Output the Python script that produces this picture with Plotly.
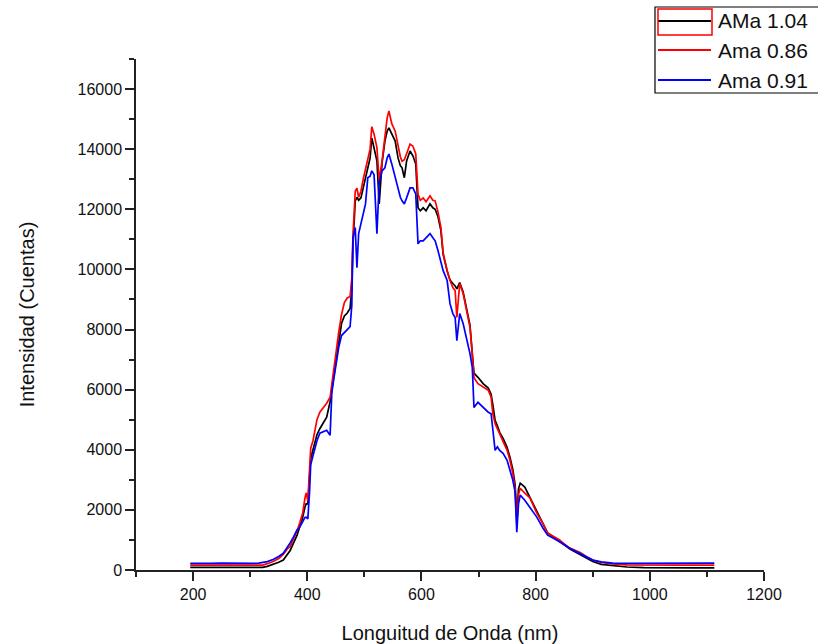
import plotly.graph_objects as go

# Shared wavelength grid (nm)
wavelength = [195, 210, 230, 250, 270, 290, 305, 315, 322, 330, 340, 350, 358, 365, 370, 376, 382, 387,
              392, 396, 398, 401, 404, 406, 410, 413, 417, 422, 428, 434, 440, 443, 446, 450, 455, 460,
              465, 470, 475, 478, 480, 484, 487, 490, 494, 498, 502, 506, 510, 513, 517, 522, 526, 531,
              536, 540, 543, 548, 554, 559, 563, 566, 570, 574, 580, 585, 590, 594, 598, 603, 608, 615,
              620, 624, 629, 634, 638, 645, 650, 655, 659, 662, 667, 673, 679, 685, 689, 692, 699, 708,
              717, 722, 725, 729, 733, 737, 743, 750, 755, 760, 764, 767, 770, 773, 781, 790, 802, 813,
              821, 832, 842, 850, 860, 870, 878, 890, 900, 915, 935, 960, 990, 1020, 1050, 1080, 1113]

# Counts per sample
ama_104 = [90, 95, 90, 90, 85, 85, 85, 85, 90, 120, 180, 260, 330, 500, 650, 900, 1150, 1450,
           1750, 2100, 2200, 2200, 3300, 3700, 4000, 4200, 4500, 4700, 4900, 5080, 5600, 6000, 6400, 7000, 7700, 8200,
           8450, 8550, 8700, 9400, 10800, 12280, 12400, 12300, 12380, 12700, 13050, 13380, 13700, 14370, 14040, 13610, 12180, 13550,
           14270, 14600, 14710, 14500, 14270, 13710, 13450, 13380, 13050, 13610, 13940, 13780, 13510, 12050, 11950, 12050, 11950, 12180,
           12050, 12000, 11750, 11300, 10500, 9950, 9650, 9530, 9450, 9350, 9560, 9250, 8700, 8150, 7200, 6550, 6410, 6200,
           6050, 5850, 5500, 4980, 4800, 4580, 4380, 4080, 3750, 3350, 2850, 1760, 2700, 2890, 2760, 2420, 1990, 1560,
           1230, 1080, 960, 840, 700, 600, 520, 380, 280, 190, 150, 100, 80, 70, 70, 70, 70]

ama_086 = [160, 165, 160, 165, 160, 160, 160, 160, 165, 210, 280, 380, 520, 700, 780, 1050, 1300, 1580,
           1900, 2400, 2560, 2300, 3400, 4050, 4300, 4650, 5000, 5250, 5400, 5550, 5750, 6200, 6650, 7200, 7900, 8500,
           8900, 9050, 9100, 9700, 11100, 12600, 12700, 12400, 12600, 13000, 13350, 13600, 14000, 14750, 14500, 14050, 12950, 13600,
           14500, 15050, 15270, 14850, 14600, 14050, 13750, 13600, 13650, 13850, 14170, 14100, 13850, 12500, 12300, 12380, 12250, 12450,
           12300, 12280, 11900, 11400, 10550, 9960, 9630, 9400, 9300, 8400, 9530, 9200, 8630, 8070, 7200, 6400, 6200, 6080,
           5980, 5750, 5200, 4870, 4700, 4550, 4320, 3980, 3650, 3220, 2700, 1560, 2500, 2720, 2560, 2400, 1890, 1540,
           1230, 1100, 1000, 870, 730, 650, 580, 430, 330, 250, 200, 170, 160, 160, 165, 160, 165]

ama_091 = [220, 230, 220, 230, 220, 220, 220, 230, 250, 280, 350, 450, 560, 750, 900, 1100, 1330, 1430,
           1600, 1750, 1760, 1700, 2600, 3500, 3800, 4050, 4300, 4550, 4600, 4650, 4480, 5900, 6300, 6800, 7400, 7800,
           7900, 8000, 8100, 8800, 11050, 11390, 10060, 11190, 11500, 11900, 12180, 13050, 13100, 13280, 13150, 11190, 12900, 13280,
           13380, 13710, 13840, 13510, 13050, 12610, 12400, 12280, 12180, 12380, 12710, 12710, 12510, 10850, 10950, 10950, 11060, 11190,
           11050, 10950, 10620, 10300, 9960, 9630, 8860, 8530, 8400, 7630, 8530, 8200, 7730, 7200, 6740, 5410, 5580, 5410,
           5250, 5200, 4650, 3980, 4100, 3980, 3880, 3650, 3320, 2990, 2600, 1260, 2200, 2490, 2320, 2090, 1760, 1390,
           1160, 1050, 950, 850, 720, 620, 560, 420, 330, 270, 230, 220, 220, 220, 230, 230, 230]

series_names = ["AMa 1.04", "Ama 0.86", "Ama 0.91"]
series_values = [ama_104, ama_086, ama_091]
series_colors = ["#000000", "#ff0000", "#0000ff"]

x_ticks = [200, 400, 600, 800, 1000, 1200]
y_ticks = [0, 2000, 4000, 6000, 8000, 10000, 12000, 14000, 16000]

FONT = "Liberation Sans, Arial, sans-serif"

fig = go.Figure()
for name, vals, color in zip(series_names, series_values, series_colors):
    fig.add_trace(go.Scatter(x=wavelength, y=vals, name=name, mode="lines",
                             line=dict(color=color, width=1.7), showlegend=False))

# Plot area in pixels
W, H = 818, 644
L, R, T, B = 136, 54, 59, 74
pw, ph = W - L - R, H - T - B


def px(xpix):
    return (xpix - L) / pw


def py(ypix):
    return (H - B - ypix) / ph


shapes = []
annotations = []
# Legend frame
shapes.append(dict(type="rect", xref="paper", yref="paper", x0=px(655), x1=px(840), y0=py(93), y1=py(7),
                   line=dict(color="black", width=1.2), fillcolor="white", layer="above"))
row_y = [21, 50, 80]
for name, color, ry in zip(series_names, series_colors, row_y):
    shapes.append(dict(type="line", xref="paper", yref="paper", x0=px(658), x1=px(711), y0=py(ry), y1=py(ry),
                       line=dict(color=color, width=2), layer="above"))
    annotations.append(dict(xref="paper", yref="paper", x=px(716), y=py(ry), text=name, showarrow=False,
                            xanchor="left", yanchor="middle", font=dict(family=FONT, size=21, color="#111111")))
# Selection box around the first legend sample
shapes.append(dict(type="rect", xref="paper", yref="paper", x0=px(658), x1=px(712), y0=py(35), y1=py(9),
                   line=dict(color="#ff0000", width=1.5), layer="above"))

fig.update_layout(
    width=W, height=H,
    margin=dict(l=L, r=R, t=T, b=B, pad=0, autoexpand=False),
    paper_bgcolor="white", plot_bgcolor="white",
    font=dict(family=FONT, color="#111111"),
    shapes=shapes, annotations=annotations,
    showlegend=False,
)
fig.update_xaxes(
    range=[100, 1200], tickvals=x_ticks, ticktext=[str(v) for v in x_ticks],
    ticks="outside", ticklen=9, tickwidth=1.5, tickcolor="#222222",
    minor=dict(dtick=100, tick0=0, ticks="outside", ticklen=5, tickwidth=1.5, tickcolor="#222222", showgrid=False),
    showline=True, linecolor="#222222", linewidth=1.5, mirror=False,
    showgrid=False, zeroline=False, automargin=False,
    tickfont=dict(family=FONT, size=16, color="#111111"),
    title=dict(text="Longuitud de Onda (nm)", font=dict(family=FONT, size=20, color="#111111"), standoff=25),
)
fig.update_yaxes(
    range=[0, 17000], tickvals=y_ticks, ticktext=[str(v) for v in y_ticks],
    ticks="outside", ticklen=9, tickwidth=1.5, tickcolor="#222222",
    minor=dict(dtick=1000, tick0=0, ticks="outside", ticklen=5, tickwidth=1.5, tickcolor="#222222", showgrid=False),
    showline=True, linecolor="#222222", linewidth=1.5, mirror=False,
    showgrid=False, zeroline=False, automargin=False,
    tickfont=dict(family=FONT, size=16, color="#111111"),
    title=dict(text="Intensidad (Cuentas)", font=dict(family=FONT, size=20, color="#111111"), standoff=38),
)

fig.write_html("out.html")
